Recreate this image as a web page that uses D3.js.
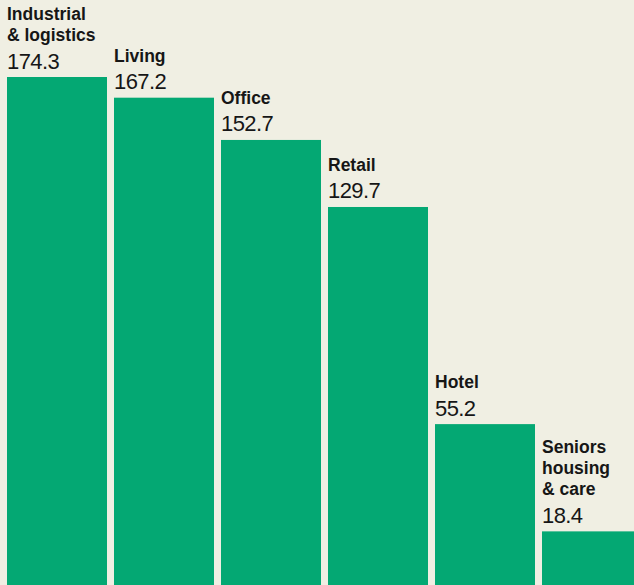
<!DOCTYPE html>
<html>
<head>
<meta charset="utf-8">
<script src="https://cdn.jsdelivr.net/npm/d3@7"></script>
<style>
  html, body { margin: 0; padding: 0; background: #f0efe3; }
  svg { display: block; }
</style>
</head>
<body>
<svg id="chart"></svg>
<script>
// data
const categories = ["Industrial\n& logistics", "Living", "Office", "Retail", "Hotel", "Seniors\nhousing\n& care"];
const values = [174.3, 167.2, 152.7, 129.7, 55.2, 18.4];

let width = 634,
    height = 585,
    svg = d3.select("#chart").attr("width", width).attr("height", height);

const rows = categories.map((c, i) => ({ name: c, value: values[i] }));

// bars are 100px wide with 7px gaps, last one runs off the right edge
let x = d3.scaleBand()
    .domain(categories)
    .range([3.5, 3.5 + 6 * 107])
    .paddingInner(7 / 107)
    .paddingOuter(3.5 / 107);

let y = d3.scaleLinear()
    .domain([0, 174.3])
    .range([height, 77]);

svg.append("rect")
    .attr("width", width)
    .attr("height", height)
    .attr("fill", "#f0efe3");

svg.selectAll(".bar")
    .data(rows)
    .enter()
    .append("rect")
    .attr("class", "bar")
    .attr("x", d => x(d.name))
    .attr("y", d => y(d.value))
    .attr("width", x.bandwidth())
    .attr("height", d => height - y(d.value))
    .attr("fill", "#04a873");

// value labels
svg.selectAll(".val")
    .data(rows)
    .enter()
    .append("text")
    .attr("class", "val")
    .attr("x", d => x(d.name))
    .attr("y", d => y(d.value) - 8.5)
    .text(d => d.value.toFixed(1))
    .style("font-family", "'Liberation Sans', Arial, sans-serif")
    .style("font-size", "22px")
    .style("letter-spacing", "-0.6px")
    .attr("fill", "#161616");

// category labels, stacked upward from the value
let cat = svg.selectAll(".cat")
    .data(rows)
    .enter()
    .append("text")
    .attr("class", "cat")
    .attr("x", d => x(d.name))
    .attr("y", d => y(d.value) - 36)
    .style("font-family", "'Liberation Sans', Arial, sans-serif")
    .style("font-size", "17.5px")
    .style("font-weight", "bold")
    .attr("fill", "#161616");

cat.each(function (d) {
    const lines = d.name.split("\n");
    d3.select(this).selectAll("tspan")
        .data(lines)
        .enter()
        .append("tspan")
        .attr("x", x(d.name))
        .attr("dy", (l, i) => i === 0 ? -(lines.length - 1) * 21.3 : 21.3)
        .text(l => l);
});
</script>
</body>
</html>
